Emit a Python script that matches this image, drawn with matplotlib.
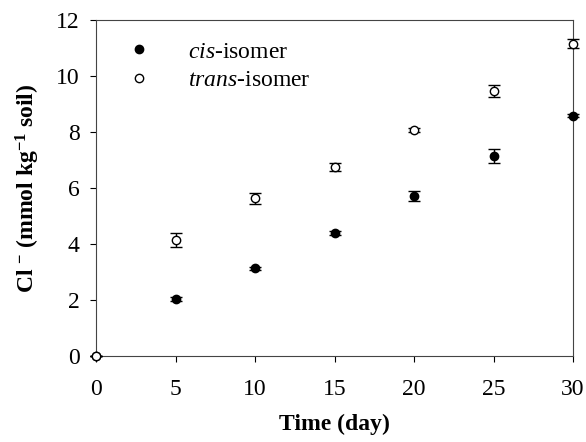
import matplotlib.pyplot as plt

plt.rcParams['font.family'] = ['Liberation Serif', 'DejaVu Serif']
plt.rcParams['mathtext.fontset'] = 'custom'
plt.rcParams['mathtext.rm'] = 'Liberation Serif'
plt.rcParams['mathtext.it'] = 'Liberation Serif:italic'
plt.rcParams['mathtext.bf'] = 'Liberation Serif:bold'

# data
days = [0, 5, 10, 15, 20, 25, 30]
cis = [0, 2.03, 3.12, 4.39, 5.7, 7.12, 8.58]
cis_err = [0, 0.08, 0.07, 0.07, 0.18, 0.25, 0.05]
trans = [0, 4.15, 5.62, 6.75, 8.06, 9.46, 11.15]
trans_err = [0, 0.25, 0.2, 0.15, 0.08, 0.2, 0.15]

fig = plt.figure(figsize=(5.86, 4.42), dpi=100)
ax = fig.add_axes([0.164, 0.195, 0.814, 0.76])

ax.errorbar(days, cis, yerr=cis_err, fmt='o', color='black', mfc='black',
            ms=6, capsize=4, elinewidth=1, capthick=1, clip_on=False, zorder=3,
            label='$\\it{cis}$-isomer')
ax.errorbar(days, trans, yerr=trans_err, fmt='o', color='black', mfc='white',
            ms=6, capsize=4, elinewidth=1, capthick=1, clip_on=False, zorder=4,
            label='$\\it{trans}$-isomer')

ax.set_xlim(0, 30)
ax.set_ylim(0, 12)
ax.set_xticks(range(0, 31, 5))
ax.set_yticks(range(0, 13, 2))
ax.tick_params(direction='out', length=4, labelsize=17, width=0.8)
ax.tick_params(axis='x', pad=13)
ax.tick_params(axis='y', pad=8)
for s in ax.spines.values():
    s.set_linewidth(0.8)
    s.set_color('#444444')

ax.set_xlabel('Time (day)', fontsize=17, fontweight='bold', labelpad=10)
ax.set_ylabel('Cl $^{\\bf{-}}$ (mmol kg$^{\\bf{-1}}$ soil)', fontsize=17,
              fontweight='bold', labelpad=10)

handles, labels = ax.get_legend_handles_labels()
handles = [h[0] for h in handles]
ax.legend(handles, labels, loc='upper left', frameon=False, fontsize=17,
          handletextpad=1.2, borderaxespad=0.3, labelspacing=0.3,
          handlelength=1.8, borderpad=0.6)

plt.savefig('out.png', dpi=100)
